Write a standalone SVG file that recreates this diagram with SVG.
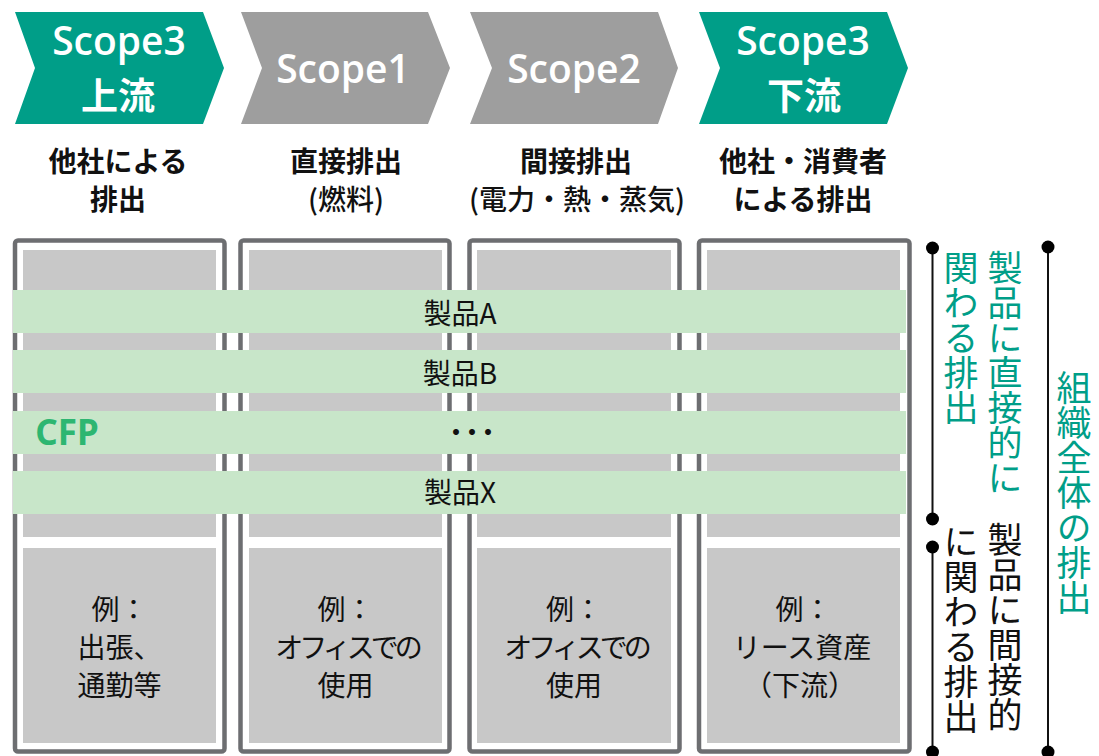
<svg xmlns="http://www.w3.org/2000/svg" width="1099" height="756" viewBox="0 0 1099 756">
<style>
.teal{fill:#009E88}
.grayc{fill:#9E9E9E}
.sc{font-family:"Open Sans","Noto Sans","Noto Sans CJK JP",sans-serif;font-weight:600;font-size:39px;fill:#fff;text-anchor:middle}
.scj{font-family:"Noto Sans CJK JP",sans-serif;font-weight:700;font-size:37px;fill:#fff;text-anchor:middle}
.hd{font-family:"Noto Sans CJK JP",sans-serif;font-weight:700;font-size:28px;fill:#111;text-anchor:middle}
.hd2{font-family:"Noto Sans CJK JP",sans-serif;font-weight:500;font-size:28px;fill:#111;text-anchor:middle}
.frame{fill:#fff;stroke:#6D6E71;stroke-width:4.5}
.inner{fill:#C8C8C8}
.band{fill:#C8E6C9}
.bt{font-family:"Noto Sans CJK JP",sans-serif;font-size:28px;fill:#111;text-anchor:middle}
.ex{font-family:"Noto Sans CJK JP",sans-serif;font-size:28px;fill:#111;text-anchor:middle}
.vt{font-family:"Noto Sans CJK JP",sans-serif;font-size:35px;writing-mode:vertical-rl}
.vg{fill:#009E88}
.vb{fill:#111}
.br{stroke:#111;stroke-width:2;fill:none}
.dot{fill:#000}
</style>

<g id="chevron-scope3-up">
<polygon class="teal" points="15,12 203,12 224,68 203,124 15,124 35,68"/>
<text class="sc" x="119" y="55">Scope3</text>
<text class="scj" x="118" y="110">上流</text>
</g>
<g id="chevron-scope1">
<polygon class="grayc" points="241,12 428,12 450,68 428,124 241,124 262,68"/>
<text class="sc" x="343" y="83">Scope1</text>
</g>
<g id="chevron-scope2">
<polygon class="grayc" points="470,12 658,12 678,68 658,124 470,124 492,68"/>
<text class="sc" x="574" y="83">Scope2</text>
</g>
<g id="chevron-scope3-down">
<polygon class="teal" points="699,12 887,12 908,68 887,124 699,124 720,68"/>
<text class="sc" x="803" y="55">Scope3</text>
<text class="scj" x="804" y="110">下流</text>
</g>

<g id="header-1">
<text class="hd" x="118" y="172">他社による</text>
<text class="hd" x="118" y="210">排出</text>
</g>
<g id="header-2">
<text class="hd" x="346" y="172">直接排出</text>
<text class="hd2" x="346" y="210">(燃料)</text>
</g>
<g id="header-3">
<text class="hd" x="576" y="172">間接排出</text>
<text class="hd2" x="577" y="210">(電力・熱・蒸気)</text>
</g>
<g id="header-4">
<text class="hd" x="803" y="172">他社・消費者</text>
<text class="hd" x="803" y="210">による排出</text>
</g>

<g id="column-1">
<rect class="frame" x="15" y="240.5" width="209.5" height="511" rx="3"/>
<rect class="inner" x="23" y="250" width="193" height="287"/>
<rect class="inner" x="23" y="548" width="193" height="195"/>
<text class="ex" x="119.5" y="620">例：</text>
<text class="ex" x="119.5" y="658">出張、</text>
<text class="ex" x="119.5" y="696">通勤等</text>
</g>
<g id="column-2">
<rect class="frame" x="240.5" y="240.5" width="209" height="511" rx="3"/>
<rect class="inner" x="249" y="250" width="193" height="287"/>
<rect class="inner" x="249" y="548" width="193" height="195"/>
<text class="ex" x="345.5" y="620">例：</text>
<text class="ex" x="347" y="658" letter-spacing="-4">オフィスでの</text>
<text class="ex" x="345.5" y="696">使用</text>
</g>
<g id="column-3">
<rect class="frame" x="469.5" y="240.5" width="210" height="511" rx="3"/>
<rect class="inner" x="477" y="250" width="194" height="287"/>
<rect class="inner" x="477" y="548" width="194" height="195"/>
<text class="ex" x="574" y="620">例：</text>
<text class="ex" x="576" y="658" letter-spacing="-4">オフィスでの</text>
<text class="ex" x="574" y="696">使用</text>
</g>
<g id="column-4">
<rect class="frame" x="699" y="240.5" width="210.5" height="511" rx="3"/>
<rect class="inner" x="707" y="250" width="193" height="287"/>
<rect class="inner" x="707" y="548" width="193" height="195"/>
<text class="ex" x="803.5" y="620">例：</text>
<text class="ex" x="802" y="658">リース資産</text>
<text class="ex" x="800" y="696">（下流）</text>
</g>

<g id="band-A">
<rect class="band" x="13" y="290" width="893" height="43"/>
<text class="bt" x="460" y="324">製品A</text>
</g>
<g id="band-B">
<rect class="band" x="13" y="350" width="893" height="43"/>
<text class="bt" x="460" y="384">製品B</text>
</g>
<g id="band-etc">
<rect class="band" x="13" y="411" width="893" height="43"/>
<text x="67" y="445" font-family="'Noto Sans','Open Sans',sans-serif" font-weight="700" font-size="35" fill="#2DB671" text-anchor="middle">CFP</text>
<text class="bt" x="466" y="443" letter-spacing="-12">・・・</text>
</g>
<g id="band-X">
<rect class="band" x="13" y="471" width="893" height="43"/>
<text class="bt" x="460" y="503">製品X</text>
</g>

<g id="connectors">
<line class="br" x1="932.5" y1="248" x2="932.5" y2="519"/>
<circle class="dot" cx="932.5" cy="248" r="6.5"/>
<circle class="dot" cx="932.5" cy="519" r="6.5"/>
<line class="br" x1="932.5" y1="547" x2="932.5" y2="752"/>
<circle class="dot" cx="932.5" cy="547" r="6.5"/>
<circle class="dot" cx="932.5" cy="752" r="6.5"/>
<line class="br" x1="1048" y1="247" x2="1048" y2="752"/>
<circle class="dot" cx="1048" cy="247" r="6.5"/>
<circle class="dot" cx="1048" cy="752" r="6.5"/>
</g>

<g id="label-direct">
<text class="vt vg" x="1005" y="250">製品に直接的に</text>
<text class="vt vg" x="961" y="250">関わる排出</text>
</g>
<g id="label-indirect">
<text class="vt vb" x="1005" y="522">製品に間接的</text>
<text class="vt vb" x="961" y="524">に関わる排出</text>
</g>
<g id="label-total">
<text class="vt vg" x="1074" y="370">組織全体の排出</text>
</g>
</svg>
